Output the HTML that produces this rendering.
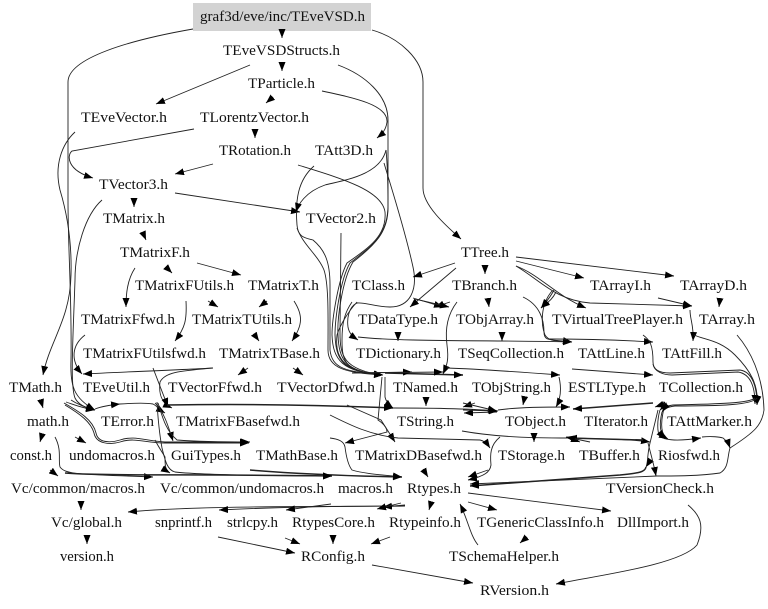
<!DOCTYPE html>
<html><head><meta charset="utf-8"><style>html,body{margin:0;padding:0;background:#fff}svg{display:block}text{font-family:"Liberation Serif",serif;font-size:15px;fill:#111}path{fill:none;stroke:#222;stroke-width:.9}.t{stroke-width:1.5}</style></head><body>
<svg xmlns="http://www.w3.org/2000/svg" width="768" height="609" viewBox="0 0 768 609">
<defs><marker id="a" markerUnits="userSpaceOnUse" markerWidth="10" markerHeight="8" refX="9" refY="3.5" orient="auto"><polygon points="0,0 9,3.5 0,7" fill="#000"/></marker></defs>
<rect width="768" height="609" fill="#fff"/>
<rect x="193" y="3" width="178" height="28" fill="#d3d3d3"/>
<g marker-end="url(#a)">
<path d="M282,29 L282,38"/><path d="M193,29 C130,40 68,58 68,82 L68,200 C68,250 72,300 71,360 C70,385 73,398 95,410"/>
<path d="M372,30 C400,38 423,60 423,82 L423,188 C423,205 445,225 461,239"/>
<path d="M282,62 L282,71"/><path d="M250,65 L156,104"/>
<path d="M338,65 C365,75 388,95 388,120 L388,205 C388,235 373,245 350,263 C340,280 335,320 335,335 C336,360 342,372 383,375"/>
<path d="M273,97 L266,103"/><path d="M322,91 C355,98 388,105 387,122 C386,130 382,134 377,138"/>
<path d="M255,130 L255,138"/><path d="M194,129 L72,151 C67,155 66,170 93,178"/>
<path d="M213,164 L175,174"/>
<path d="M298,165 C340,178 382,190 385,212 C387,235 370,247 347,263 C338,280 332,320 332,335 C333,360 342,372 383,375"/>
<path d="M75,132 C62,144 54,165 60,190 C66,210 72,240 71,275 C70,320 50,340 43,375"/>
<path d="M134,198 L134,207"/><path d="M175,193 L300,212"/>
<path d="M102,200 C85,215 75,250 75,280 C73,340 70,385 75,398 C78,404 85,408 95,410"/>
<path d="M314,166 C298,180 295,200 297,225 C298,238 306,238 313,240 C325,250 330,262 330,285 L330,350 C332,368 345,372 383,375"/>
<path d="M297,228 C303,245 318,255 324,270 C329,285 328,320 328,350 C328,368 345,373 383,375"/>
<path d="M386,150 C380,175 345,180 325,185 C305,192 298,205 296,212"/>
<path d="M341,233 L340,333 C340,355 343,370 383,375"/>
<path d="M384,163 C392,190 405,230 413,267 C418,290 410,307 390,307 C375,307 365,302 357,303 C348,307 347,320 348,327 C349,333 352,336 358,340"/>
<path d="M386,150 C388,170 388,190 388,208 C388,232 375,245 353,262 C342,280 337,320 338,335 C339,360 345,372 383,375"/>
<path d="M357,302 C348,312 340,325 337,335 C335,355 340,372 383,375"/>
<path d="M352,302 C345,312 342,322 342,340 C342,362 345,372 383,375"/>
<path d="M485,266 L485,274"/><path d="M455,263 L413,277"/><path d="M456,268 L410,307"/>
<path d="M516,261 L584,278"/><path d="M516,257 L674,276"/>
<path d="M516,266 C540,275 555,295 586,308"/>
<path d="M516,266 C540,280 555,300 590,303 L692,306"/>
<path d="M413,298 L443,307"/><path d="M450,302 L435,307"/><path d="M415,299 L449,307"/>
<path d="M488,299 L489,307"/>
<path d="M457,302 C447,315 445,330 447,345 C449,360 447,365 443,374"/>
<path d="M523,297 C540,305 544,320 544,332 C544,342 550,339 572,342"/>
<path d="M552,291 C540,305 541,325 545,335 C550,343 560,340 572,342"/>
<path d="M556,292 C552,300 548,302 541,308"/><path d="M554,290 C550,298 546,302 541,308"/>
<path d="M398,332 L398,341"/><path d="M502,333 L502,341"/>
<path d="M358,337 C400,342 500,340 572,342"/>
<path d="M548,339 C580,339 620,340 653,342"/>
<path d="M643,335 C650,340 653,345 653,362 C653,370 660,373 670,373 L740,370 C753,372 757,388 757,405"/>
<path d="M653,364 C654,372 664,375 672,375 L738,372 C751,374 755,388 755,404"/>
<path d="M658,298 L692,306"/><path d="M720,298 L719,307"/>
<path d="M690,310 C690,320 694,325 693,341"/>
<path d="M694,335 C705,340 720,340 735,355 C750,370 759,385 757,405"/>
<path d="M737,335 C750,350 763,375 764,410 C762,425 755,432 730,448 C727,458 729,468 720,473 C700,476 675,476 657,476 L470,484"/>
<path d="M143,233 L146,240"/><path d="M166,267 L172,273"/><path d="M197,263 L241,275"/>
<path d="M135,268 C127,280 126,295 126,307"/>
<path d="M208,301 L218,307"/><path d="M186,301 C187,320 185,328 175,341"/>
<path d="M267,301 L259,307"/><path d="M294,301 C303,315 303,325 292,341"/><path d="M254,334 L259,341"/>
<path d="M85,335 C72,345 70,360 82,374"/>
<path d="M248,368 L238,375"/><path d="M293,368 L303,375"/>
<path d="M213,368 C180,370 120,372 83,374"/>
<path d="M213,368 C180,371 165,372 160,382 C159,390 159,402 172,408"/>
<path d="M153,368 L168,407"/>
<path class="t" d="M167,405 C230,404 300,404 393,408"/>
<path d="M95,409 C100,407 110,405 120,404"/>
<path d="M120,404 C135,403 148,403 153,404 C157,406 160,410 165,413"/>
<path d="M66,402 C75,405 82,408 95,410"/><path d="M71,400 C77,404 84,407 95,410"/>
<path d="M155,403 C163,410 168,425 173,441"/>
<path d="M158,403 C162,415 165,430 177,440 C190,441 220,442 250,442"/>
<path d="M426,400 L426,406"/><path d="M524,400 L523,405"/><path d="M559,377 C562,390 560,400 556,407"/>
<path d="M447,368 C480,369 520,372 560,375"/><path d="M572,369 L653,375"/><path class="t" d="M385,373 L463,375"/>
<path d="M385,377 L385,397 C386,402 389,405 393,408"/><path d="M352,373 L412,372"/>
<path d="M352,373 L443,372"/>
<path d="M393,408 C420,408 463,408 497,411"/>
<path d="M475,403 L463,407"/><path d="M463,403 L497,411"/><path d="M497,412 L464,413"/><path d="M463,410 L498,411"/>
<path d="M498,410 C520,407 545,407 570,407"/>
<path d="M347,405 L381,420 L395,442"/>
<path d="M330,415 C350,425 370,435 398,438 L480,440 C485,441 488,445 490,448"/>
<path d="M382,377 L378,420 C384,424 387,428 387,432 L345,443"/>
<path d="M64,403 C80,412 93,420 96,433 C98,443 110,443 120,440 C135,435 145,441 165,442 L249,442"/>
<path d="M65,405 C80,414 91,422 94,433 C96,444 110,445 120,442 C135,437 145,443 165,443 L249,443"/>
<path d="M157,402 C158,420 160,437 162,448 C165,460 167,470 175,472 C200,475 280,476 332,476"/>
<path d="M155,440 C158,446 162,452 165,457 C165,465 165,470 170,473"/>
<path d="M330,438 C338,439 344,441 345,447 C346,455 348,465 352,470 C365,474 385,475 402,477"/>
<path class="t" d="M250,470 C300,474 350,476 402,477"/>
<path d="M42,435 L40,442"/><path d="M41,401 L43,408"/><path d="M75,437 L86,443"/>
<path d="M55,437 C62,450 58,460 60,467 C66,475 80,474 153,477"/>
<path class="t" d="M65,473 C100,476 200,474 332,476"/>
<path d="M50,470 L58,476"/><path d="M81,503 L81,510"/><path d="M87,537 L87,544"/>
<path d="M405,506 C350,507 200,505 128,512"/><path d="M405,506 C350,506 280,507 219,510"/><path d="M331,504 L286,510"/>
<path d="M405,505 L383,507"/><path d="M401,503 L377,509"/>
<path d="M431,503 L429,510"/><path d="M468,502 L497,510"/><path d="M468,493 L611,511"/>
<path d="M478,545 C470,535 468,520 460,504"/><path d="M527,537 L520,543"/>
<path d="M688,505 C700,515 705,525 697,545 C680,565 600,575 556,584"/>
<path d="M372,565 L473,583"/><path d="M218,537 L295,553"/><path d="M285,538 L300,544"/>
<path d="M333,537 L333,544"/><path d="M390,537 L371,544"/>
<path d="M423,469 L428,477"/>
<path d="M462,431 C490,436 520,438 570,438 C600,439 630,439 650,442"/>
<path d="M500,437 C490,445 490,455 491,465 C490,472 485,476 468,480"/><path d="M488,470 L468,477"/>
<path d="M534,435 L534,442"/><path class="t" d="M643,440 L568,438"/><path d="M567,437 L580,442"/><path d="M590,442 L566,437"/>
<path class="t" d="M646,467 C645,472 640,473 620,475 L470,486"/>
<path d="M658,410 L650,443 C647,455 648,464 646,467"/>
<path d="M648,443 C651,455 654,465 656,476"/>
<path d="M660,410 C657,420 657,433 660,436 C665,441 680,441 701,438"/>
<path d="M662,412 C659,425 660,433 665,439"/><path d="M664,408 C660,425 661,435 668,439"/>
<path d="M702,437 C712,436 720,437 723,438 C727,441 729,445 730,448"/>
<path d="M755,398 C750,403 720,404 673,405 C665,406 662,408 660,410"/>
<path d="M757,398 C752,405 720,406 675,406 C667,407 664,409 662,412"/>
<path class="t" d="M653,403 L573,409"/><path d="M667,403 L655,407"/>
</g>
<text x="200" y="21" textLength="165" lengthAdjust="spacingAndGlyphs">graf3d/eve/inc/TEveVSD.h</text>
<text x="223" y="55" textLength="117" lengthAdjust="spacingAndGlyphs">TEveVSDStructs.h</text>
<text x="248" y="88" textLength="67" lengthAdjust="spacingAndGlyphs">TParticle.h</text>
<text x="81" y="122" textLength="86" lengthAdjust="spacingAndGlyphs">TEveVector.h</text>
<text x="200" y="122" textLength="109" lengthAdjust="spacingAndGlyphs">TLorentzVector.h</text>
<text x="219" y="155" textLength="72" lengthAdjust="spacingAndGlyphs">TRotation.h</text>
<text x="315" y="155" textLength="58" lengthAdjust="spacingAndGlyphs">TAtt3D.h</text>
<text x="99" y="189" textLength="69" lengthAdjust="spacingAndGlyphs">TVector3.h</text>
<text x="103" y="223" textLength="62" lengthAdjust="spacingAndGlyphs">TMatrix.h</text>
<text x="306" y="223" textLength="70" lengthAdjust="spacingAndGlyphs">TVector2.h</text>
<text x="461" y="257" textLength="48" lengthAdjust="spacingAndGlyphs">TTree.h</text>
<text x="120" y="257" textLength="70" lengthAdjust="spacingAndGlyphs">TMatrixF.h</text>
<text x="135" y="290" textLength="99" lengthAdjust="spacingAndGlyphs">TMatrixFUtils.h</text>
<text x="248" y="290" textLength="71" lengthAdjust="spacingAndGlyphs">TMatrixT.h</text>
<text x="352" y="290" textLength="53" lengthAdjust="spacingAndGlyphs">TClass.h</text>
<text x="452" y="290" textLength="65" lengthAdjust="spacingAndGlyphs">TBranch.h</text>
<text x="590" y="290" textLength="61" lengthAdjust="spacingAndGlyphs">TArrayI.h</text>
<text x="680" y="290" textLength="67" lengthAdjust="spacingAndGlyphs">TArrayD.h</text>
<text x="81" y="324" textLength="94" lengthAdjust="spacingAndGlyphs">TMatrixFfwd.h</text>
<text x="192" y="324" textLength="100" lengthAdjust="spacingAndGlyphs">TMatrixTUtils.h</text>
<text x="358" y="324" textLength="80" lengthAdjust="spacingAndGlyphs">TDataType.h</text>
<text x="456" y="324" textLength="78" lengthAdjust="spacingAndGlyphs">TObjArray.h</text>
<text x="552" y="324" textLength="131" lengthAdjust="spacingAndGlyphs">TVirtualTreePlayer.h</text>
<text x="699" y="324" textLength="56" lengthAdjust="spacingAndGlyphs">TArray.h</text>
<text x="83" y="358" textLength="123" lengthAdjust="spacingAndGlyphs">TMatrixFUtilsfwd.h</text>
<text x="219" y="358" textLength="101" lengthAdjust="spacingAndGlyphs">TMatrixTBase.h</text>
<text x="356" y="358" textLength="85" lengthAdjust="spacingAndGlyphs">TDictionary.h</text>
<text x="458" y="358" textLength="106" lengthAdjust="spacingAndGlyphs">TSeqCollection.h</text>
<text x="578" y="358" textLength="67" lengthAdjust="spacingAndGlyphs">TAttLine.h</text>
<text x="662" y="358" textLength="60" lengthAdjust="spacingAndGlyphs">TAttFill.h</text>
<text x="9" y="392" textLength="53" lengthAdjust="spacingAndGlyphs">TMath.h</text>
<text x="83" y="392" textLength="67" lengthAdjust="spacingAndGlyphs">TEveUtil.h</text>
<text x="168" y="392" textLength="94" lengthAdjust="spacingAndGlyphs">TVectorFfwd.h</text>
<text x="277" y="392" textLength="98" lengthAdjust="spacingAndGlyphs">TVectorDfwd.h</text>
<text x="393" y="392" textLength="65" lengthAdjust="spacingAndGlyphs">TNamed.h</text>
<text x="472" y="392" textLength="79" lengthAdjust="spacingAndGlyphs">TObjString.h</text>
<text x="568" y="392" textLength="78" lengthAdjust="spacingAndGlyphs">ESTLType.h</text>
<text x="659" y="392" textLength="84" lengthAdjust="spacingAndGlyphs">TCollection.h</text>
<text x="27" y="426" textLength="42" lengthAdjust="spacingAndGlyphs">math.h</text>
<text x="101" y="426" textLength="53" lengthAdjust="spacingAndGlyphs">TError.h</text>
<text x="176" y="426" textLength="124" lengthAdjust="spacingAndGlyphs">TMatrixFBasefwd.h</text>
<text x="397" y="426" textLength="57" lengthAdjust="spacingAndGlyphs">TString.h</text>
<text x="505" y="426" textLength="61" lengthAdjust="spacingAndGlyphs">TObject.h</text>
<text x="584" y="426" textLength="64" lengthAdjust="spacingAndGlyphs">TIterator.h</text>
<text x="667" y="426" textLength="85" lengthAdjust="spacingAndGlyphs">TAttMarker.h</text>
<text x="10" y="460" textLength="42" lengthAdjust="spacingAndGlyphs">const.h</text>
<text x="69" y="460" textLength="86" lengthAdjust="spacingAndGlyphs">undomacros.h</text>
<text x="171" y="460" textLength="70" lengthAdjust="spacingAndGlyphs">GuiTypes.h</text>
<text x="256" y="460" textLength="82" lengthAdjust="spacingAndGlyphs">TMathBase.h</text>
<text x="355" y="460" textLength="127" lengthAdjust="spacingAndGlyphs">TMatrixDBasefwd.h</text>
<text x="498" y="460" textLength="67" lengthAdjust="spacingAndGlyphs">TStorage.h</text>
<text x="579" y="460" textLength="61" lengthAdjust="spacingAndGlyphs">TBuffer.h</text>
<text x="658" y="460" textLength="62" lengthAdjust="spacingAndGlyphs">Riosfwd.h</text>
<text x="11" y="493" textLength="134" lengthAdjust="spacingAndGlyphs">Vc/common/macros.h</text>
<text x="160" y="493" textLength="164" lengthAdjust="spacingAndGlyphs">Vc/common/undomacros.h</text>
<text x="338" y="493" textLength="55" lengthAdjust="spacingAndGlyphs">macros.h</text>
<text x="407" y="493" textLength="54" lengthAdjust="spacingAndGlyphs">Rtypes.h</text>
<text x="606" y="493" textLength="108" lengthAdjust="spacingAndGlyphs">TVersionCheck.h</text>
<text x="51" y="527" textLength="71" lengthAdjust="spacingAndGlyphs">Vc/global.h</text>
<text x="155" y="527" textLength="57" lengthAdjust="spacingAndGlyphs">snprintf.h</text>
<text x="227" y="527" textLength="51" lengthAdjust="spacingAndGlyphs">strlcpy.h</text>
<text x="292" y="527" textLength="83" lengthAdjust="spacingAndGlyphs">RtypesCore.h</text>
<text x="389" y="527" textLength="72" lengthAdjust="spacingAndGlyphs">Rtypeinfo.h</text>
<text x="477" y="527" textLength="127" lengthAdjust="spacingAndGlyphs">TGenericClassInfo.h</text>
<text x="617" y="527" textLength="72" lengthAdjust="spacingAndGlyphs">DllImport.h</text>
<text x="60" y="561" textLength="54" lengthAdjust="spacingAndGlyphs">version.h</text>
<text x="301" y="561" textLength="64" lengthAdjust="spacingAndGlyphs">RConfig.h</text>
<text x="449" y="561" textLength="110" lengthAdjust="spacingAndGlyphs">TSchemaHelper.h</text>
<text x="480" y="595" textLength="69" lengthAdjust="spacingAndGlyphs">RVersion.h</text>
</svg>
</body></html>
